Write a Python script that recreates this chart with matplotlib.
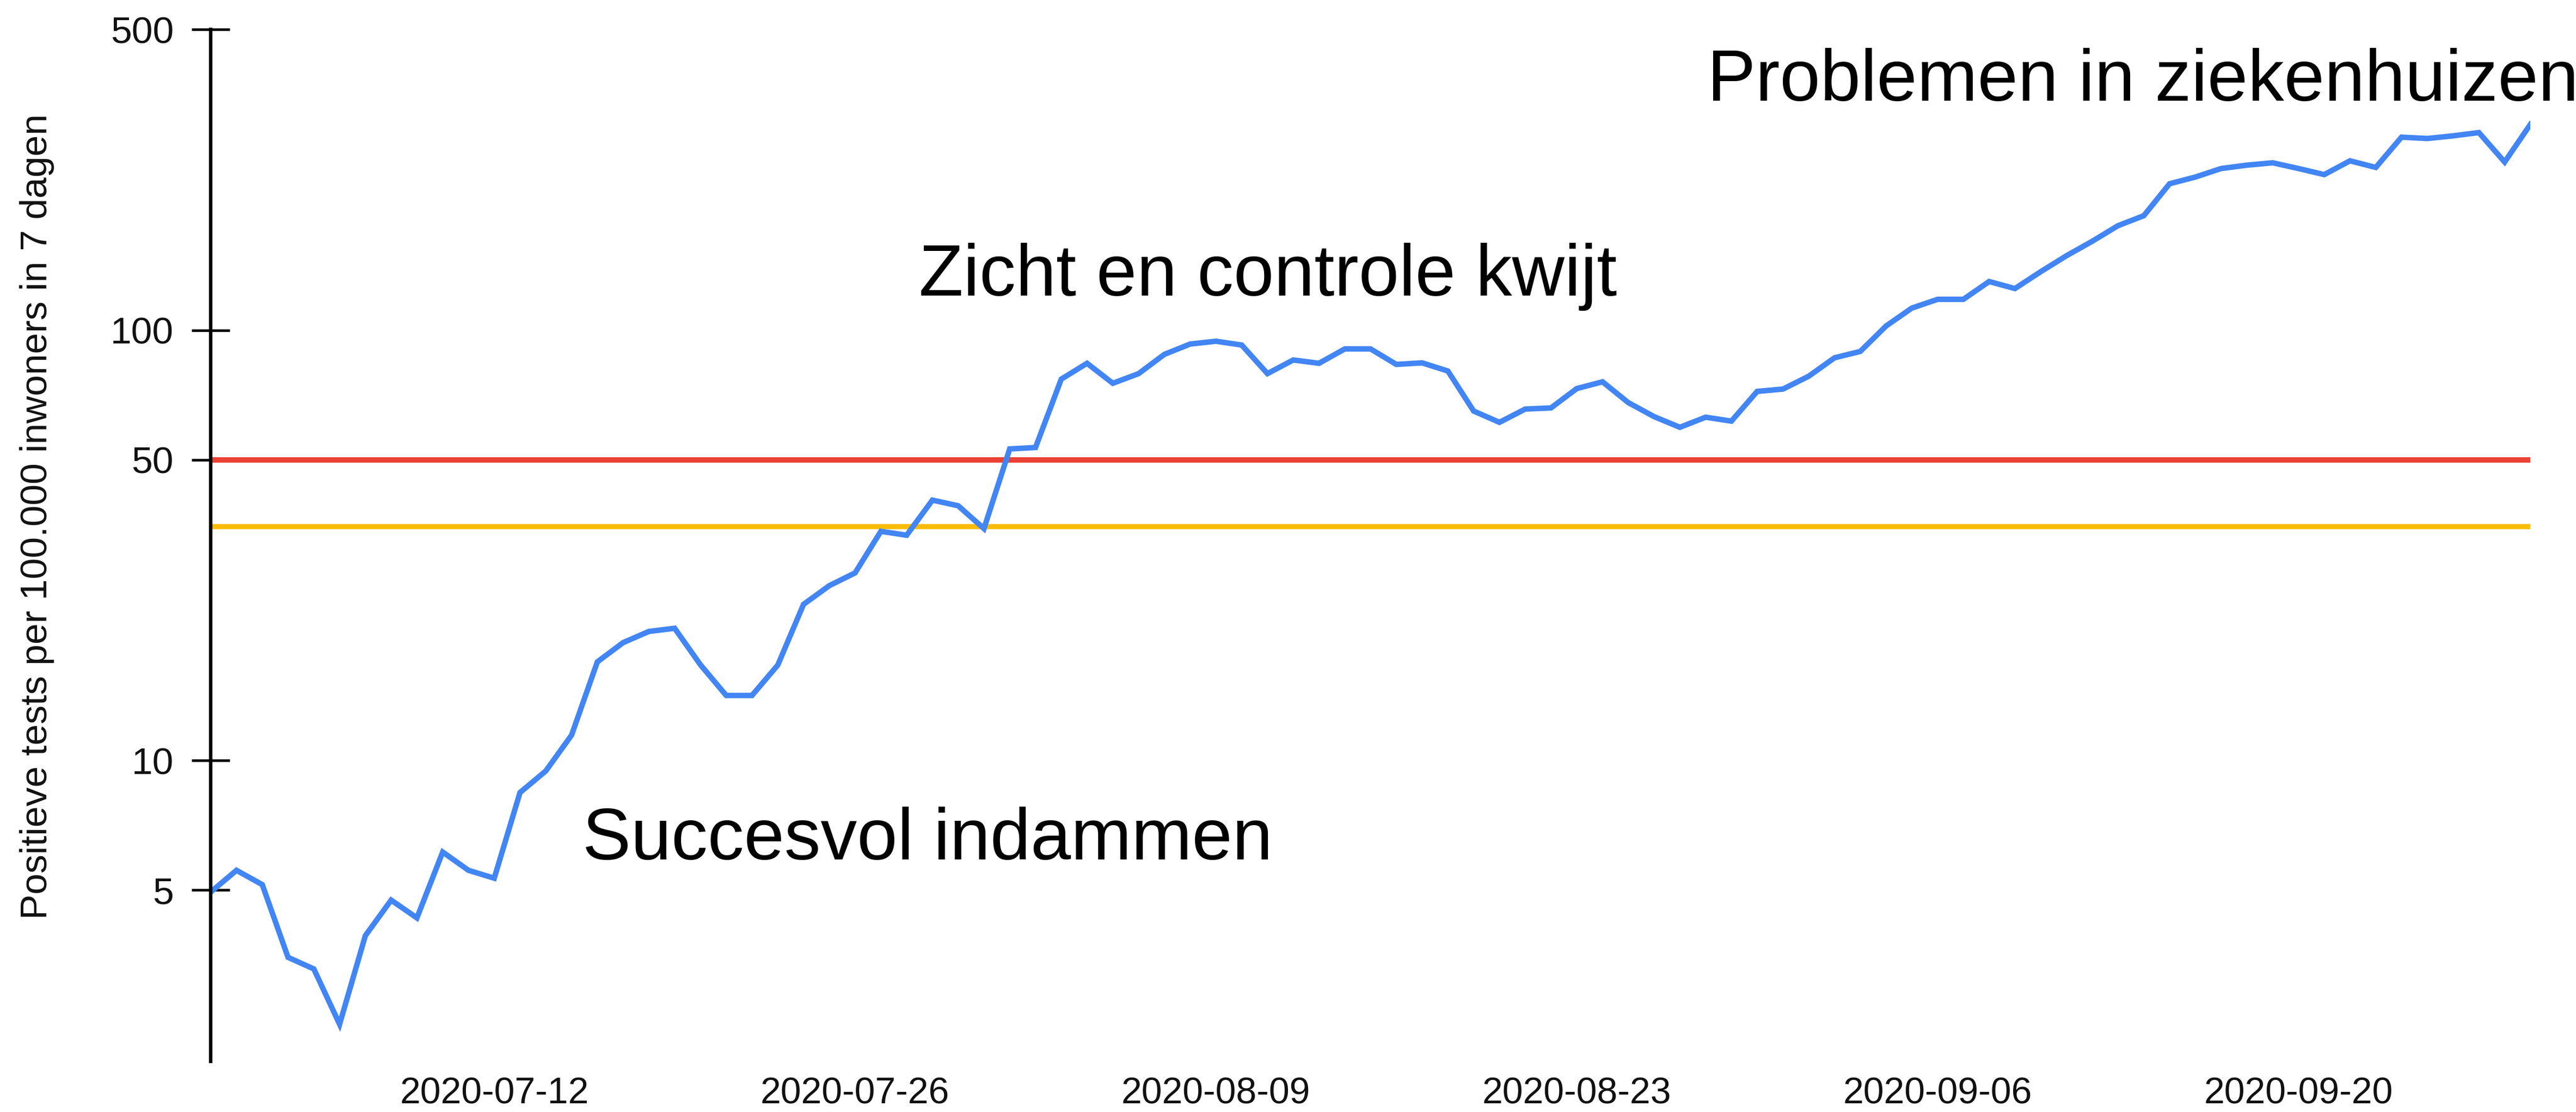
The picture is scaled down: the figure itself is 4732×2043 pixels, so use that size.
import numpy as np
import pandas as pd
import matplotlib
matplotlib.use('Agg')
import matplotlib.pyplot as plt
import matplotlib.dates as mdates

plt.rcParams['font.family'] = ['Liberation Sans', 'DejaVu Sans']

# Data: positive tests per 100.000 inhabitants in 7 days, daily from 2020-07-01
start_date = '2020-07-01'
values = [
    4.95, 5.56, 5.15, 3.49, 3.28, 2.44, 3.92, 4.74, 4.31, 6.13,
    5.56, 5.33, 8.43, 9.46, 11.46, 16.96, 18.8, 19.96, 20.3, 16.7,
    14.17, 14.17, 16.67, 23.07, 25.5, 27.3, 34.1, 33.4, 40.3, 39.1,
    34.6, 53.0, 53.4, 77.0, 83.8, 75.3, 79.3, 87.9, 92.9, 94.3,
    92.4, 79.3, 85.3, 83.8, 90.5, 90.5, 83.3, 84.0, 80.4, 64.9,
    61.1, 65.6, 66.0, 73.2, 75.9, 67.9, 63.0, 59.5, 62.8, 61.5,
    72.1, 73.0, 78.2, 86.3, 89.3, 102.3, 112.6, 118, 118, 129.8,
    125, 136.8, 149, 161, 175, 184.6, 219, 227, 237.6, 241.9,
    245, 237.6, 230, 247.6, 239, 281, 279, 283, 288, 246,
    301,
]
dates = pd.date_range(start_date, periods=len(values), freq='D')

red_level = 50
yellow_level = 35

y_ticks = [5, 10, 50, 100, 500]
x_ticks = ['2020-07-12', '2020-07-26', '2020-08-09', '2020-08-23', '2020-09-06', '2020-09-20']

# label, days after start, value at baseline
annotations = [
    ('Succesvol indammen', 14.43, 5.9),
    ('Zicht en controle kwijt', 27.47, 120.4),
    ('Problemen in ziekenhuizen', 58.06, 342),
]

fig = plt.figure(figsize=(23.66, 10.215), dpi=200)
ax = fig.add_axes([0.0818, 0.0455, 0.9005, 0.928])

ax.axhline(red_level, color='#EA4335', lw=3.6, zorder=2)
ax.axhline(yellow_level, color='#FBBC04', lw=3.4, zorder=2)
ax.plot(dates, values, color='#4285F4', lw=3.6, zorder=3, solid_joinstyle='miter')

ax.set_yscale('log')
ax.set_ylim(2, 500)
ax.set_xlim(dates[0], dates[-1])
ax.set_yticks(y_ticks)
ax.set_yticklabels([str(v) for v in y_ticks])
ax.yaxis.set_minor_locator(matplotlib.ticker.NullLocator())
ax.set_xticks(pd.to_datetime(x_ticks))
ax.xaxis.set_major_formatter(mdates.DateFormatter('%Y-%m-%d'))

for s in ['top', 'right', 'bottom']:
    ax.spines[s].set_visible(False)
ax.spines['left'].set_linewidth(2.3)
ax.spines['left'].set_zorder(4)

ax.tick_params(axis='y', direction='inout', length=25, width=1.7, labelsize=25,
               pad=12, labelcolor='#111111')
ax.tick_params(axis='x', length=0, labelsize=24.5, pad=10, labelcolor='#111111')

ax.set_ylabel('Positieve tests per 100.000 inwoners in 7 dagen', fontsize=25, color='#111111')
ax.yaxis.set_label_coords(-0.0674, 0.528)

for label, day, y in annotations:
    ax.text(dates[0] + pd.Timedelta(days=day), y, label, fontsize=48,
            ha='left', va='baseline', color='black')

fig.savefig('out.png', dpi=200)
